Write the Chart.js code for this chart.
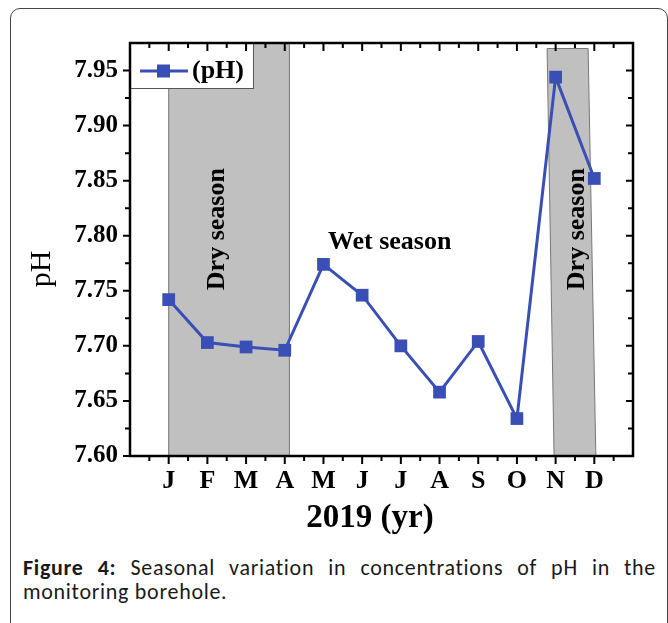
<!DOCTYPE html>
<html>
<head>
<meta charset="utf-8">
<script src="https://cdn.jsdelivr.net/npm/chart.js@4.4.1/dist/chart.umd.min.js"></script>
<style>
  html, body { margin: 0; padding: 0; background: #fff; }
  body { width: 668px; height: 623px; position: relative; overflow: hidden; }
  .frame {
    position: absolute; left: 10px; top: 8px; width: 658px; height: 640px;
    border: 1px solid #444; border-radius: 10px; box-sizing: border-box;
  }
  #phChart { position: absolute; left: 0; top: 0; }
  .caption {
    position: absolute; left: 23px; top: 556px; width: 633px;
    font-family: Carlito, Lato, "Open Sans", sans-serif; font-size: 22px; line-height: 24px;
    letter-spacing: 0.7px; color: #1a1a1a;
  }
  .caption .l1 { text-align: justify; text-align-last: justify; }
</style>
</head>
<body>
<div class="frame"></div>
<canvas id="phChart" width="668" height="540"></canvas>
<div class="caption">
  <div class="l1"><b>Figure 4:</b> Seasonal variation in concentrations of pH in the</div>
  <div>monitoring borehole.</div>
</div>
<script>
const months = ['J', 'F', 'M', 'A', 'M', 'J', 'J', 'A', 'S', 'O', 'N', 'D'];
const phValues = [7.742, 7.703, 7.699, 7.696, 7.774, 7.746, 7.700, 7.658, 7.704, 7.634, 7.944, 7.852];
const yTicks = [7.60, 7.65, 7.70, 7.75, 7.80, 7.85, 7.90, 7.95];
const yMinorTicks = [7.625, 7.675, 7.725, 7.775, 7.825, 7.875, 7.925];

// shaded dry-season bands (x in month index, top edge can lean)
const dryTopFrom = [0, 9.78];
const dryTopTo = [3.12, 10.84];
const dryBottomFrom = [0, 9.96];
const dryBottomTo = [3.12, 11.04];
const dryTopValue = [7.975, 7.97];

const seasonText = ['Dry season', 'Wet season', 'Dry season'];
const seasonX = [1.25, 5.71, 10.57];
const seasonY = [7.806, 7.794, 7.806];
const seasonVertical = [true, false, true];

const lineColor = '#3a4fb6';
const serif = '"Liberation Serif", "Times New Roman", serif';

const points = phValues.map((v, i) => ({ x: i, y: v }));

const decorations = {
  id: 'decorations',
  beforeDatasetsDraw(chart) {
    const { ctx, scales: { x, y } } = chart;
    const base = y.getPixelForValue(7.60);
    ctx.save();
    for (let i = 0; i < dryTopFrom.length; i++) {
      const top = y.getPixelForValue(dryTopValue[i]);
      ctx.beginPath();
      ctx.moveTo(x.getPixelForValue(dryTopFrom[i]), top);
      ctx.lineTo(x.getPixelForValue(dryTopTo[i]), top);
      ctx.lineTo(x.getPixelForValue(dryBottomTo[i]), base);
      ctx.lineTo(x.getPixelForValue(dryBottomFrom[i]), base);
      ctx.closePath();
      ctx.fillStyle = '#c0c0c0';
      ctx.fill();
      ctx.strokeStyle = '#777';
      ctx.lineWidth = 1;
      ctx.stroke();
    }
    ctx.fillStyle = '#000';
    ctx.font = 'bold 26px ' + serif;
    ctx.textAlign = 'center';
    ctx.textBaseline = 'middle';
    seasonText.forEach((t, i) => {
      ctx.save();
      ctx.translate(x.getPixelForValue(seasonX[i]), y.getPixelForValue(seasonY[i]));
      if (seasonVertical[i]) ctx.rotate(-Math.PI / 2);
      ctx.fillText(t, 0, 0);
      ctx.restore();
    });
    ctx.restore();
  },
  afterDatasetsDraw(chart) {
    const { ctx, chartArea: a, scales: { x, y } } = chart;
    ctx.save();

    // legend
    ctx.fillStyle = '#fff';
    ctx.fillRect(a.left, a.top, 123, 45);
    ctx.strokeStyle = '#555';
    ctx.lineWidth = 1;
    ctx.strokeRect(a.left + 0.5, a.top + 0.5, 123, 45);
    ctx.strokeStyle = lineColor;
    ctx.lineWidth = 3;
    ctx.beginPath();
    ctx.moveTo(a.left + 10, a.top + 28);
    ctx.lineTo(a.left + 58, a.top + 28);
    ctx.stroke();
    ctx.fillStyle = lineColor;
    ctx.fillRect(a.left + 27, a.top + 21.5, 13, 13);
    ctx.fillStyle = '#000';
    ctx.font = 'bold 26px ' + serif;
    ctx.textAlign = 'left';
    ctx.textBaseline = 'middle';
    ctx.fillText('(pH)', a.left + 62, a.top + 28);

    // axis box
    ctx.strokeStyle = '#000';
    ctx.lineWidth = 2.5;
    ctx.strokeRect(a.left, a.top, a.right - a.left, a.bottom - a.top);

    // ticks: outward on bottom/left, inward on top/right
    ctx.lineWidth = 2;
    ctx.beginPath();
    for (let v = -0.5; v < 12; v += 0.5) {
      const px = x.getPixelForValue(v);
      const len = Number.isInteger(v) ? 8 : 5;
      ctx.moveTo(px, a.bottom); ctx.lineTo(px, a.bottom + len);
      ctx.moveTo(px, a.top); ctx.lineTo(px, a.top + len);
    }
    yTicks.concat(yMinorTicks).forEach(v => {
      const py = y.getPixelForValue(v);
      const len = yTicks.includes(v) ? 7 : 5;
      ctx.moveTo(a.left, py); ctx.lineTo(a.left - len, py);
      ctx.moveTo(a.right, py); ctx.lineTo(a.right - len, py);
    });
    ctx.stroke();

    // axis titles
    ctx.fillStyle = '#000';
    ctx.textAlign = 'center';
    ctx.textBaseline = 'middle';
    ctx.font = 'bold 33px ' + serif;
    ctx.fillText('2019 (yr)', 370, a.bottom + 62);
    ctx.save();
    ctx.translate(42, a.top + 226);
    ctx.rotate(-Math.PI / 2);
    ctx.font = '30px ' + serif;
    ctx.fillText('pH', 0, 0);
    ctx.restore();

    ctx.restore();
  }
};

new Chart(document.getElementById('phChart'), {
  type: 'line',
  data: {
    datasets: [{
      label: '(pH)',
      data: points,
      borderColor: lineColor,
      backgroundColor: lineColor,
      borderWidth: 3,
      pointStyle: 'rect',
      pointRadius: 9,
      pointHoverRadius: 9,
      pointBorderWidth: 0,
      tension: 0
    }]
  },
  options: {
    responsive: false,
    animation: false,
    events: [],
    layout: { padding: { left: 0, top: 43, right: 35, bottom: 0 } },
    plugins: { legend: { display: false }, tooltip: { enabled: false } },
    scales: {
      x: {
        type: 'linear',
        min: -1,
        max: 12,
        afterBuildTicks: s => { s.ticks = months.map((m, i) => ({ value: i })); },
        afterFit: s => { s.height = 84; },
        grid: { display: false, drawTicks: false },
        border: { display: false },
        ticks: {
          callback: v => months[v] ?? '',
          color: '#000',
          padding: 10,
          maxRotation: 0,
          font: { family: serif, size: 26, weight: 'bold' }
        }
      },
      y: {
        min: 7.60,
        max: 7.975,
        afterBuildTicks: s => { s.ticks = yTicks.map(v => ({ value: v })); },
        afterFit: s => { s.width = 130; },
        grid: { display: false, drawTicks: false },
        border: { display: false },
        ticks: {
          callback: v => Number(v).toFixed(2),
          color: '#000',
          padding: 12,
          font: { family: serif, size: 25, weight: 'bold' }
        }
      }
    }
  },
  plugins: [decorations]
});
</script>
</body>
</html>
